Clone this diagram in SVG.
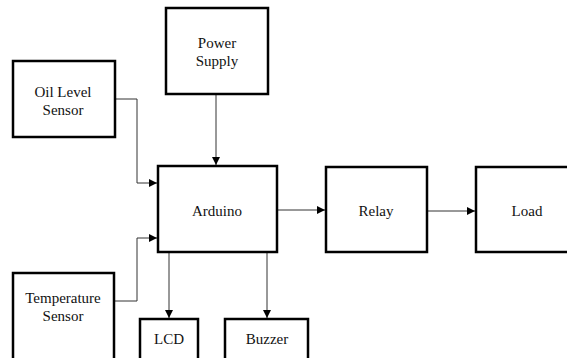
<svg xmlns="http://www.w3.org/2000/svg" width="567" height="358" viewBox="0 0 567 358">
<defs>
<style>
.box{fill:#fff;stroke:#000;stroke-width:2.5}
.t{font-family:"Liberation Serif","Times New Roman",serif;font-size:15px;fill:#111;text-anchor:middle}
.c{fill:none;stroke:#333;stroke-width:1}
</style>
<marker id="ah" viewBox="0 0 10 10" refX="10" refY="5" markerWidth="8" markerHeight="8" markerUnits="userSpaceOnUse" orient="auto">
<path d="M0,0 L10,5 L0,10 z" fill="#000"/>
</marker>
</defs>
<rect width="567" height="358" fill="#fff"/>
<g id="connectors">
<path class="c" d="M216,94 V165" marker-end="url(#ah)"/>
<path class="c" d="M115,99 H137 V183 H157" marker-end="url(#ah)"/>
<path class="c" d="M114,301 H137 V238 H157" marker-end="url(#ah)"/>
<path class="c" d="M169,252 V318" marker-end="url(#ah)"/>
<path class="c" d="M267,252 V318" marker-end="url(#ah)"/>
<path class="c" d="M277,210 H325" marker-end="url(#ah)"/>
<path class="c" d="M427,211 H475" marker-end="url(#ah)"/>
</g>
<g id="power"><rect class="box" x="166" y="8" width="102" height="86"/><text class="t" x="217" y="48">Power</text><text class="t" x="217" y="66">Supply</text></g>
<g id="oil"><rect class="box" x="13" y="61" width="102" height="76"/><text class="t" x="63" y="97">Oil Level</text><text class="t" x="63" y="115">Sensor</text></g>
<g id="arduino"><rect class="box" x="158" y="166" width="119" height="86"/><text class="t" x="217" y="216">Arduino</text></g>
<g id="temp"><rect class="box" x="13" y="273" width="101" height="95"/><text class="t" x="63" y="303">Temperature</text><text class="t" x="63" y="321">Sensor</text></g>
<g id="lcd"><rect class="box" x="140" y="319" width="58" height="50"/><text class="t" x="169" y="344">LCD</text></g>
<g id="buzzer"><rect class="box" x="225" y="319" width="83" height="50"/><text class="t" x="267" y="344">Buzzer</text></g>
<g id="relay"><rect class="box" x="326" y="167" width="101" height="85"/><text class="t" x="376" y="216">Relay</text></g>
<g id="load"><rect class="box" x="476" y="167" width="101" height="85"/><text class="t" x="527" y="216">Load</text></g>
</svg>
